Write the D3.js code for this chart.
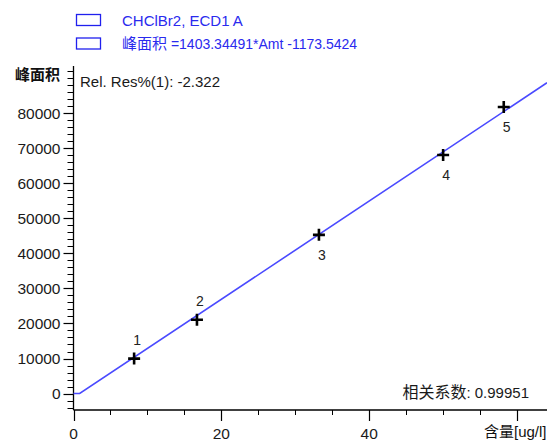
<!DOCTYPE html>
<html><head><meta charset="utf-8">
<script src="https://cdn.jsdelivr.net/npm/d3@7"></script>
<style>
html,body{margin:0;padding:0;background:#fff;overflow:hidden}
text{font-family:"Liberation Sans",Arial,"Noto Sans CJK SC",sans-serif}
</style></head>
<body>
<script>
// ---- data ----
const levels = ["1","2","3","4","5"];
const amounts = [8.2, 16.7, 33.2, 50.0, 58.2];
const areas = [9970, 21050, 45300, 68100, 81800];
const slope = 1403.34491;
const intercept = -1173.5424;
const yTicks = [0,10000,20000,30000,40000,50000,60000,70000,80000];
const xTicks = [0,20,40];
const legendNames = ["", "峰面积"];
const legendItems = ["CHClBr2, ECD1 A", " =1403.34491*Amt -1173.5424"];
const relRes = "Rel. Res%(1): -2.322";
const corrName = "相关系数";
const corrVal = ": 0.99951";
const xTitle = "含量[ug/l]";
const yTitle = "峰面积";

const W = 547, H = 442;
const svg = d3.select("body").append("svg").attr("width", W).attr("height", H);

const x = d3.scaleLinear().domain([0, 64.05]).range([73.5, 547]);
const y = d3.scaleLinear().domain([-4700, 80000]).range([410, 113.3]);
const yTopVal = 93500;

const axisCol = "#000";
// Y axis
const yAx = svg.append("g").attr("transform", `translate(${x(0)},0)`);
yAx.append("line").attr("x1",0).attr("x2",0).attr("y1",y(yTopVal)).attr("y2",y(-4700)).attr("stroke",axisCol).attr("stroke-width",1.3);
const yMinor = d3.range(-4000, 92001, 2000).filter(v => !yTicks.includes(v));
yAx.selectAll(".ym").data(yMinor).join("line")
  .attr("x1",-6).attr("x2",0).attr("y1",d=>Math.round(y(d))+0.5).attr("y2",d=>Math.round(y(d))+0.5)
  .attr("stroke",axisCol).attr("stroke-width",1);
yAx.selectAll(".yM").data(yTicks).join("line")
  .attr("x1",-10).attr("x2",0).attr("y1",d=>Math.round(y(d))+0.5).attr("y2",d=>Math.round(y(d))+0.5)
  .attr("stroke",axisCol).attr("stroke-width",1.2);
yAx.selectAll(".yl").data(yTicks).join("text")
  .attr("x",-13).attr("y",d=>y(d)).attr("dy","0.36em").attr("text-anchor","end")
  .attr("font-size",15.5).attr("fill","#1a1a1a").text(d=>d);

// X axis
const xAx = svg.append("g").attr("transform", `translate(0,${y(-4700)})`);
xAx.append("line").attr("x1",x(0)).attr("x2",W).attr("y1",0).attr("y2",0).attr("stroke",axisCol).attr("stroke-width",1.3);
const xMinor = d3.range(5, 64, 5).filter(v => v % 20 !== 0);
xAx.selectAll(".xm").data(xMinor).join("line")
  .attr("x1",d=>Math.round(x(d))+0.5).attr("x2",d=>Math.round(x(d))+0.5).attr("y1",0).attr("y2",5)
  .attr("stroke",axisCol).attr("stroke-width",1);
xAx.selectAll(".xM").data([0,20,40,60]).join("line")
  .attr("x1",d=>Math.round(x(d))+0.5).attr("x2",d=>Math.round(x(d))+0.5).attr("y1",0).attr("y2",11)
  .attr("stroke",axisCol).attr("stroke-width",1.2);
xAx.selectAll(".xl").data(xTicks).join("text")
  .attr("x",d=>x(d)).attr("y",23).attr("dy","0.36em").attr("text-anchor","middle")
  .attr("font-size",15.5).attr("fill","#1a1a1a").text(d=>d);

// axis titles
svg.append("text").attr("x",15).attr("y",75).attr("dy","0.36em").attr("font-size",15)
  .attr("font-weight","bold").attr("font-family","Noto Sans CJK SC").attr("fill","#111").text(yTitle);
svg.append("text").attr("x",484).attr("y",432).attr("dy","0.36em").attr("font-size",15)
  .attr("fill","#111").text(xTitle);

// calibration line
const xCross = -intercept / slope;
const linePts = [[0,0],[xCross,0],[64.05, slope*64.05 + intercept]];
svg.append("path").attr("d", d3.line().x(d=>x(d[0])).y(d=>y(d[1]))(linePts))
  .attr("fill","none").attr("stroke","#4a4aff").attr("stroke-width",1.6);

// points
const pts = svg.append("g");
amounts.forEach((a,i) => {
  const cx = x(a), cy = y(areas[i]);
  pts.append("path").attr("d", `M${cx-6},${cy}H${cx+6}M${cx},${cy-6}V${cy+6}`)
    .attr("stroke","#000").attr("stroke-width",2.6);
  const above = i < 2;
  pts.append("text").attr("x", cx + 3).attr("y", cy + (above ? -19 : 20)).attr("dy","0.36em")
    .attr("text-anchor","middle").attr("font-size",14).attr("fill","#222").text(levels[i]);
});

// legend
legendItems.forEach((t,i) => {
  const ly = 20 + i*23.5;
  svg.append("rect").attr("x",76.5).attr("y",ly-5.5).attr("width",24).attr("height",11)
    .attr("fill","none").attr("stroke","#2020ee").attr("stroke-width",1.3);
  const tx = svg.append("text").attr("x",122).attr("y",ly).attr("dy","0.36em")
    .attr("fill","#2a2aee");
  if (legendNames[i]) tx.append("tspan").attr("font-size",15).attr("font-family","Noto Sans CJK SC").text(legendNames[i]);
  tx.append("tspan").attr("font-size", i ? 14 : 15).text(t);
});

svg.append("text").attr("x",80).attr("y",81.5).attr("dy","0.36em").attr("font-size",15)
  .attr("fill","#1a1a1a").text(relRes);
const ct = svg.append("text").attr("x",529).attr("y",392.5).attr("dy","0.36em").attr("text-anchor","end")
  .attr("fill","#1a1a1a");
ct.append("tspan").attr("font-size",16).attr("font-family","Noto Sans CJK SC").text(corrName);
ct.append("tspan").attr("font-size",15).text(corrVal);
</script>
</body></html>
